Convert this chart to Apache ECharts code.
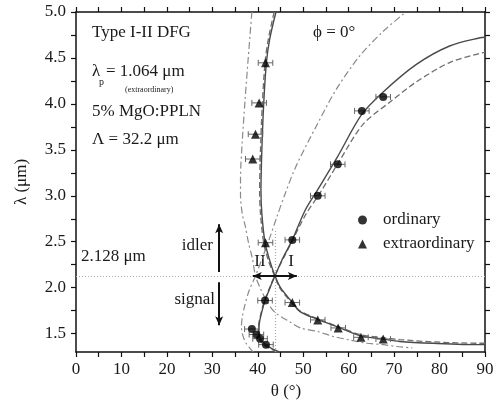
<!DOCTYPE html>
<html>
<head>
<meta charset="utf-8">
<script src="https://cdn.jsdelivr.net/npm/echarts@6/dist/echarts.min.js"></script>
<style>
  html, body { margin: 0; padding: 0; background: #fff; }
  #main { width: 503px; height: 413px; }
</style>
</head>
<body>
<div id="main"></div>
<script>
// measured points (theta in deg, lambda in um)
var ordTheta = [67.6, 62.9, 57.6, 53.2, 47.6, 41.6, 38.7, 39.7, 40.5, 41.8];
var ordLambda = [4.076, 3.924, 3.342, 3.0, 2.52, 1.86, 1.55, 1.49, 1.445, 1.38];
var extTheta = [41.7, 40.3, 39.5, 38.9, 41.7, 47.6, 53.2, 57.7, 62.7, 67.6];
var extLambda = [4.447, 4.011, 3.67, 3.40, 2.49, 1.838, 1.649, 1.562, 1.46, 1.442];
var thetaErr = 1.6;

// theory curves [theta, lambda]
var solidOrd = [[44.8, 1.30], [43.0, 1.34], [41.8, 1.38], [40.9, 1.42], [40.4, 1.47], [40.2, 1.53],
  [40.4, 1.63], [40.9, 1.74], [41.6, 1.86], [42.7, 2.0], [43.8, 2.128], [45.5, 2.32], [47.6, 2.52],
  [50.4, 2.84], [53.1, 3.06], [57.5, 3.42], [62.8, 3.88], [67.6, 4.13], [74.9, 4.43], [82.2, 4.63],
  [88.9, 4.72], [90, 4.725]];
var solidExt = [[44.0, 5.0], [42.6, 4.7], [41.9, 4.45], [41.3, 4.0], [40.9, 3.5], [40.7, 3.06],
  [40.9, 2.8], [41.6, 2.49], [42.6, 2.3], [43.8, 2.128], [45.0, 2.0], [47.6, 1.84], [49.3, 1.74],
  [53.2, 1.655], [57.7, 1.57], [62.7, 1.475], [67.6, 1.44], [71.2, 1.415], [78.6, 1.395],
  [88.9, 1.38], [90, 1.38]];
var dashOrd = [[44.3, 1.30], [42.6, 1.34], [41.2, 1.38], [40.4, 1.43], [40.1, 1.50], [40.2, 1.60],
  [40.7, 1.72], [41.4, 1.85], [42.6, 2.0], [43.7, 2.128], [47.5, 2.5], [50.6, 2.8], [53.7, 3.03],
  [58.1, 3.39], [63.2, 3.78], [69.1, 4.02], [74.9, 4.24], [82.2, 4.45], [88.9, 4.55], [90, 4.56]];
var dashExt = [[43.6, 5.0], [42.3, 4.7], [41.6, 4.45], [41.0, 4.0], [40.6, 3.5], [40.4, 3.06],
  [40.6, 2.8], [41.3, 2.49], [42.3, 2.3], [43.7, 2.128], [44.8, 2.0], [47.3, 1.845], [49.2, 1.75],
  [53.0, 1.665], [57.5, 1.58], [62.5, 1.49], [67.5, 1.455], [71.2, 1.435], [78.6, 1.41],
  [89.0, 1.395], [90, 1.395]];
var dotOrd = [[39.0, 1.30], [38.3, 1.34], [37.5, 1.39], [36.7, 1.48], [36.4, 1.58], [36.6, 1.68],
  [37.1, 1.80], [38.1, 1.97], [39.5, 2.128], [40.9, 2.31], [42.4, 2.51], [44.2, 2.77], [46.0, 3.02],
  [48.4, 3.32], [52.9, 3.76], [57.3, 4.16], [62.4, 4.52], [67.6, 4.79], [72.6, 5.0]];
var dotExt = [[38.7, 5.0], [37.9, 4.5], [37.2, 4.04], [36.6, 3.6], [36.2, 3.2], [36.2, 3.0],
  [36.6, 2.8], [37.2, 2.68], [38.0, 2.48], [38.8, 2.32], [39.5, 2.128], [40.5, 2.0], [42.0, 1.85],
  [43.8, 1.73], [47.0, 1.63], [49.5, 1.56], [53.0, 1.525], [56.6, 1.47], [60.3, 1.43],
  [64.0, 1.395], [67.6, 1.38], [70.5, 1.36], [74.0, 1.345]];

var degLambda = 2.128;
var degTheta = 43.8;
var yLabels = [1.5, 2.0, 2.5, 3.0, 3.5, 4.0, 4.5, 5.0];
var yTicks = [1.5, 1.75, 2.0, 2.25, 2.5, 2.75, 3.0, 3.25, 3.5, 3.75, 4.0, 4.25, 4.5, 4.75, 5.0];

var font = 'Liberation Serif';
var ink = '#1a1a1a';

function pts(xs, ys) {
  return xs.map(function (x, i) { return [x, ys[i], thetaErr]; });
}

function xAx(pos, labels) {
  return {
    type: 'value', position: pos, min: 0, max: 90, interval: 10,
    name: labels ? 'θ (°)' : '', nameLocation: 'middle', nameGap: 29,
    nameTextStyle: { fontFamily: font, fontSize: 17, color: ink, padding: [0, 0, 0, 11] },
    axisLine: { show: true, onZero: false, lineStyle: { color: '#111', width: 1.5 } },
    axisTick: { show: true, length: 5, lineStyle: { color: '#111', width: 1.2 } },
    minorTick: { show: true, splitNumber: 2, length: 5, lineStyle: { color: '#111', width: 1.2 } },
    axisLabel: { show: labels, fontFamily: font, fontSize: 17, color: ink, margin: 9 },
    splitLine: { show: false }
  };
}
function yAx(pos, labels) {
  return {
    type: 'value', position: pos, min: 1.3, max: 5.0,
    name: labels ? 'λ (μm)' : '', nameLocation: 'middle', nameGap: 46,
    nameTextStyle: { fontFamily: font, fontSize: 17, color: ink },
    axisLine: { show: true, onZero: false, lineStyle: { color: '#111', width: 1.5 } },
    axisTick: { show: true, length: 5, customValues: yTicks, lineStyle: { color: '#111', width: 1.2 } },
    axisLabel: {
      show: labels, customValues: yLabels, fontFamily: font, fontSize: 17, color: ink, margin: 10,
      formatter: function (v) { return v.toFixed(1); }
    },
    splitLine: { show: false }
  };
}

function curve(data, color, type, width) {
  return {
    type: 'line', data: data, smooth: 0.3, symbol: 'none', silent: true,
    lineStyle: { color: color, type: type, width: width }, z: 2
  };
}

function errBars(data) {
  return {
    type: 'custom', data: data, silent: true, z: 3,
    encode: { x: 0, y: 1 },
    renderItem: function (params, api) {
      var y = api.value(1), x = api.value(0), e = api.value(2);
      var a = api.coord([x - e, y]), b = api.coord([x + e, y]);
      var st = { stroke: '#666', lineWidth: 1 };
      return {
        type: 'group', children: [
          { type: 'line', shape: { x1: a[0], y1: a[1], x2: b[0], y2: b[1] }, style: st },
          { type: 'line', shape: { x1: a[0], y1: a[1] - 3, x2: a[0], y2: a[1] + 3 }, style: st },
          { type: 'line', shape: { x1: b[0], y1: b[1] - 3, x2: b[0], y2: b[1] + 3 }, style: st }
        ]
      };
    }
  };
}

function txt(x, y, s, size, align) {
  return {
    type: 'text', x: x, y: y, silent: true,
    style: { text: s, fontFamily: font, fontSize: size || 17, fill: ink,
      align: align || 'left', verticalAlign: 'middle' }
  };
}

var arrowLine = { color: '#111', width: 2, type: 'solid' };

var myChart = echarts.init(document.getElementById('main'));
var option = {
  animation: false,
  backgroundColor: '#fff',
  grid: { left: 76, right: 18, top: 12, bottom: 61, outerBoundsMode: 'none' },
  xAxis: [xAx('bottom', true), xAx('top', false)],
  yAxis: [yAx('left', true), yAx('right', false)],
  legend: {
    left: 353, top: 206, orient: 'vertical', itemGap: 6, itemWidth: 9, itemHeight: 9,
    selectedMode: false,
    textStyle: { fontFamily: font, fontSize: 17, color: ink, lineHeight: 18, padding: [0, 0, 0, 11] },
    data: [{ name: 'ordinary', icon: 'circle' }, { name: 'extraordinary', icon: 'triangle' }]
  },
  series: [
    curve(dotOrd, '#8a8a8a', [7, 3, 2, 3], 1.2),
    curve(dotExt, '#8a8a8a', [7, 3, 2, 3], 1.2),
    curve(dashOrd, '#6e6e6e', [6, 3], 1.3),
    curve(dashExt, '#6e6e6e', [6, 3], 1.3),
    curve(solidExt, '#4a4a4a', 'solid', 1.4),
    {
      type: 'line', data: solidOrd, smooth: 0.3, symbol: 'none', silent: true, z: 2,
      lineStyle: { color: '#4a4a4a', width: 1.4 },
      markLine: {
        silent: true, symbol: 'none', label: { show: false }, animation: false,
        data: [
          [{ coord: [0, degLambda], lineStyle: { color: '#aaa', type: [1, 2], width: 1.2 } }, { coord: [90, degLambda] }],
          [{ coord: [degTheta, 1.3], lineStyle: { color: '#aaa', type: [1, 2], width: 1.2 } }, { coord: [degTheta, 2.64] }],
          [{ coord: [degTheta, degLambda], symbol: 'none', lineStyle: arrowLine },
            { coord: [38.9, degLambda], symbol: 'arrow', symbolSize: [6, 9] }],
          [{ coord: [degTheta, degLambda], symbol: 'none', lineStyle: arrowLine },
            { coord: [48.6, degLambda], symbol: 'arrow', symbolSize: [6, 9] }],
          [{ coord: [31.5, 2.17], symbol: 'none', lineStyle: arrowLine },
            { coord: [31.5, 2.69], symbol: 'arrow', symbolSize: [6, 9] }],
          [{ coord: [31.5, 2.06], symbol: 'none', lineStyle: arrowLine },
            { coord: [31.5, 1.59], symbol: 'arrow', symbolSize: [6, 9] }]
        ]
      }
    },
    errBars(pts(ordTheta, ordLambda)),
    errBars(pts(extTheta, extLambda)),
    {
      name: 'ordinary', type: 'scatter', symbol: 'circle', symbolSize: 8, z: 4, silent: true,
      itemStyle: { color: '#000' }, data: pts(ordTheta, ordLambda)
    },
    {
      name: 'extraordinary', type: 'scatter', symbol: 'triangle', symbolSize: 9, z: 4, silent: true,
      itemStyle: { color: '#000' }, data: pts(extTheta, extLambda)
    }
  ],
  graphic: [
    txt(92, 33, 'Type I-II DFG'),
    txt(92, 72, 'λ'),
    txt(99, 82, 'p', 10),
    txt(106, 72, '= 1.064 μm'),
    txt(125, 90, '(extraordinary)', 8),
    txt(92, 112, '5% MgO:PPLN'),
    txt(92, 140, 'Λ = 32.2 μm'),
    txt(313, 33, 'ϕ = 0°'),
    txt(81, 257, '2.128 μm'),
    txt(213, 246, 'idler', 17, 'right'),
    txt(215, 300, 'signal', 17, 'right'),
    txt(260, 262, 'II', 17, 'center'),
    txt(291, 262, 'I', 17, 'center')
  ]
};
myChart.setOption(option);
</script>
</body>
</html>
